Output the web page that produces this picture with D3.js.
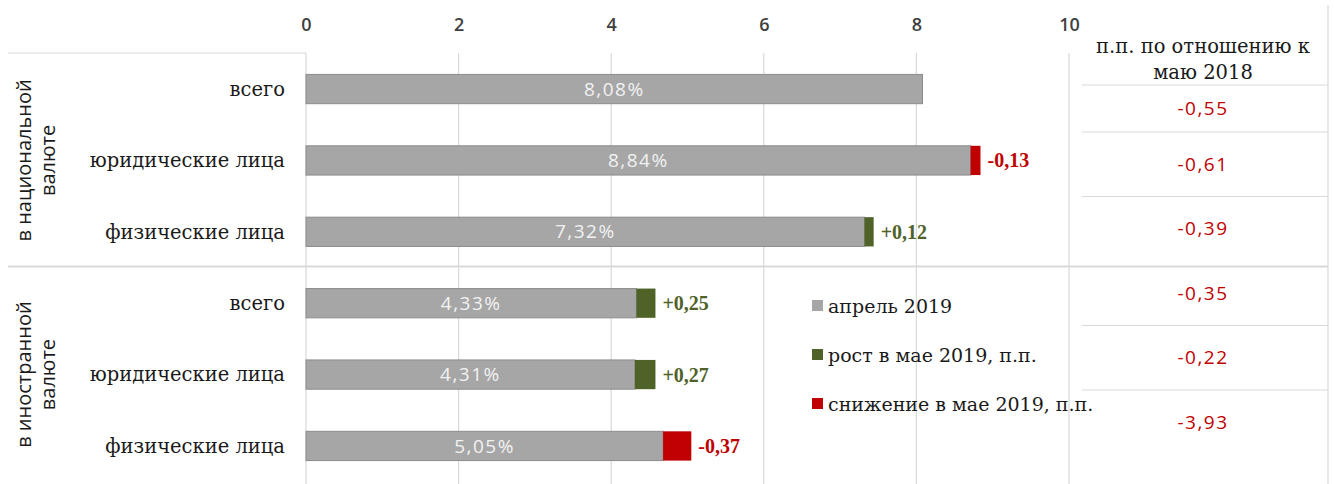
<!DOCTYPE html>
<html>
<head>
<meta charset="utf-8">
<script src="https://cdn.jsdelivr.net/npm/d3@7"></script>
<style>
  body { margin: 0; background: #fff; }
  svg { display: block; }
</style>
</head>
<body>
<svg id="chart"></svg>
<script>
// ---- data ----
var categories = ["всего", "юридические лица", "физические лица",
                  "всего", "юридические лица", "физические лица"];
var groups = ["в национальной|валюте", "в иностранной|валюте"];
var april = [8.08, 8.84, 7.32, 4.33, 4.31, 5.05];       // апрель 2019
var change = [0, -0.13, 0.12, 0.25, 0.27, -0.37];        // изменение в мае 2019, п.п.
var yoy = [-0.55, -0.61, -0.39, -0.35, -0.22, -3.93];    // п.п. по отношению к маю 2018
var xTicks = [0, 2, 4, 6, 8, 10];
var legendLabels = ["апрель 2019", "рост в мае 2019, п.п.", "снижение в мае 2019, п.п."];
var tableHeader = ["п.п. по отношению к", "маю 2018"];

var width = 1334, height = 484;
var colGray = "#a6a6a6", colGreen = "#4f6228", colRed = "#c00000";
var serif = "'DejaVu Serif', serif", sans = "'Open Sans', sans-serif";
var fmt = function(v, d) { return v.toFixed(d).replace(".", ","); };

var svg = d3.select("#chart").attr("width", width).attr("height", height);

var x = d3.scaleLinear().domain([0, 10]).range([306, 1069]);
var y = d3.scaleBand().domain(d3.range(categories.length)).range([53, 482]).paddingInner(0.59).paddingOuter(0.3);

// gridlines
svg.append("g").selectAll("line").data(xTicks).join("line")
  .attr("x1", d => x(d)).attr("x2", d => x(d))
  .attr("y1", 53).attr("y2", height)
  .attr("stroke", "#d9d9d9").attr("stroke-width", 1.2);

// frame lines
svg.append("line").attr("x1", 8).attr("x2", x(0)).attr("y1", 53).attr("y2", 53)
  .attr("stroke", "#d9d9d9").attr("stroke-width", 1.2);
var sepY = (y(2) + y.bandwidth() + y(3)) / 2 - 1;
svg.append("line").attr("x1", 8).attr("x2", 1328).attr("y1", sepY).attr("y2", sepY)
  .attr("stroke", "#d9d9d9").attr("stroke-width", 2);
svg.append("line").attr("x1", 1328).attr("x2", 1328).attr("y1", 5).attr("y2", height)
  .attr("stroke", "#d9d9d9").attr("stroke-width", 1.2);

// top axis
var axis = svg.append("g").attr("transform", "translate(0,25)")
  .call(d3.axisTop(x).tickValues(xTicks).tickSize(0).tickPadding(0));
axis.select(".domain").remove();
axis.selectAll("text").attr("font-family", sans).attr("font-size", 18)
  .attr("font-weight", 600).attr("fill", "#404040").attr("dy", "0.35em");

// bars
var rows = categories.map((c, i) => {
  var base = change[i] < 0 ? april[i] + change[i] : april[i];
  return { i: i, base: base, delta: change[i] };
});

svg.append("g").selectAll("rect").data(rows).join("rect")
  .attr("x", x(0)).attr("y", d => y(d.i))
  .attr("width", d => x(d.base) - x(0)).attr("height", y.bandwidth())
  .attr("fill", colGray).attr("stroke", "#8c8c8c").attr("stroke-width", 1);

svg.append("g").selectAll("rect").data(rows.filter(d => d.delta !== 0)).join("rect")
  .attr("x", d => x(d.base)).attr("y", d => y(d.i))
  .attr("width", d => x(d.base + Math.abs(d.delta)) - x(d.base)).attr("height", y.bandwidth())
  .attr("fill", d => d.delta > 0 ? colGreen : colRed);

// value labels inside bars
svg.append("g").selectAll("text").data(rows).join("text")
  .attr("x", d => (x(0) + x(d.base)) / 2).attr("y", d => y(d.i) + y.bandwidth() / 2)
  .attr("dy", "0.35em").attr("text-anchor", "middle")
  .attr("font-family", sans).attr("font-size", 19).attr("letter-spacing", 1.5).attr("fill", "#f2f2f2")
  .text(d => fmt(april[d.i], 2) + "%");

// change labels
svg.append("g").selectAll("text").data(rows.filter(d => d.delta !== 0)).join("text")
  .attr("x", d => x(d.base + Math.abs(d.delta)) + 7).attr("y", d => y(d.i) + y.bandwidth() / 2)
  .attr("dy", "0.35em")
  .attr("font-family", "'Liberation Serif', serif").attr("font-weight", "bold").attr("font-size", 20)
  .attr("fill", d => d.delta > 0 ? colGreen : colRed)
  .text(d => (d.delta > 0 ? "+" : "") + fmt(d.delta, 2));

// category labels
svg.append("g").selectAll("text").data(categories).join("text")
  .attr("x", 285).attr("y", (d, i) => y(i) + y.bandwidth() / 2)
  .attr("dy", "0.35em").attr("text-anchor", "end")
  .attr("font-family", serif).attr("font-size", 19.5).attr("fill", "#1a1a1a")
  .text(d => d);

// group labels (rotated)
groups.forEach((g, gi) => {
  var cy = (y(gi * 3) + y(gi * 3 + 2) + y.bandwidth()) / 2;
  var t = svg.append("text").attr("transform", "translate(36," + cy + ") rotate(-90)")
    .attr("text-anchor", "middle").attr("font-family", sans).attr("font-size", 20).attr("fill", "#1a1a1a");
  g.split("|").forEach((line, li) => {
    t.append("tspan").attr("x", 0).attr("y", li === 0 ? -5 : 19).text(line);
  });
});

// legend
var ly = d3.scalePoint().domain(d3.range(legendLabels.length)).range([306, 404]);
var legendColors = [colGray, colGreen, colRed];
var lg = svg.append("g").selectAll("g").data(legendLabels).join("g")
  .attr("transform", (d, i) => "translate(812," + ly(i) + ")");
lg.append("rect").attr("x", 0).attr("y", -6).attr("width", 11).attr("height", 11)
  .attr("fill", (d, i) => legendColors[i]);
lg.append("text").attr("x", 16).attr("dy", "0.35em")
  .attr("font-family", serif).attr("font-size", 19).attr("fill", "#1a1a1a").text(d => d);

// right table
var tx = 1203;
var ruleY = d3.scaleLinear().domain([1, 5]).range([132, 390]);
svg.append("g").selectAll("line").data([85].concat([1, 2, 4, 5].map(ruleY))).join("line")
  .attr("x1", 1082).attr("x2", 1328).attr("y1", d => d).attr("y2", d => d)
  .attr("stroke", "#d9d9d9").attr("stroke-width", 1.2);

svg.append("g").selectAll("text").data(tableHeader).join("text")
  .attr("x", tx).attr("y", (d, i) => 46 + i * 26).attr("dy", "0.35em").attr("text-anchor", "middle")
  .attr("font-family", serif).attr("font-size", 19.5).attr("fill", "#1a1a1a").text(d => d);

svg.append("g").selectAll("text").data(yoy).join("text")
  .attr("x", tx).attr("y", (d, i) => i === 0 ? (85 + ruleY(1)) / 2 : ruleY(i) + 32)
  .attr("dy", "0.35em").attr("text-anchor", "middle")
  .attr("font-family", sans).attr("font-size", 19).attr("letter-spacing", 1.5).attr("fill", colRed)
  .text(d => fmt(d, 2));
</script>
</body>
</html>
